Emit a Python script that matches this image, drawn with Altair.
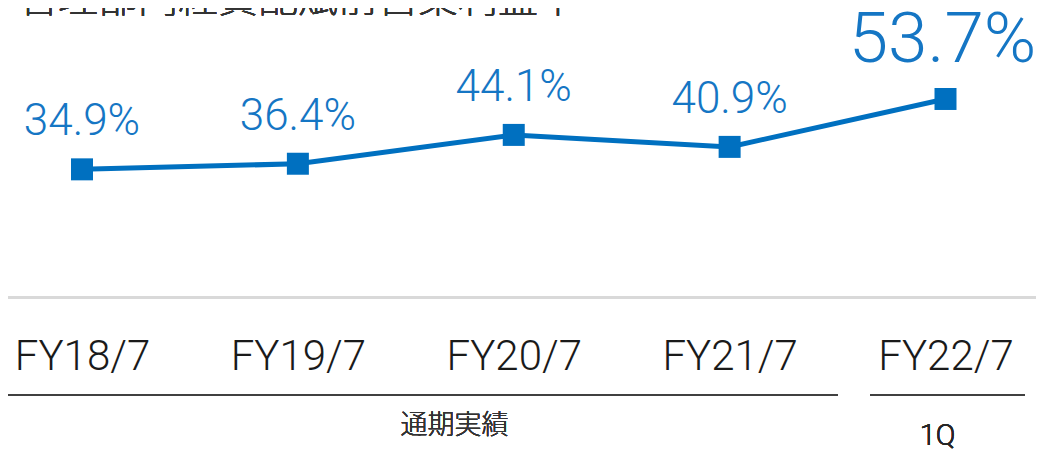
import altair as alt
import pandas as pd

title_text = "管理部門経費配賦前営業利益率"
categories = ["FY18/7", "FY19/7", "FY20/7", "FY21/7", "FY22/7"]
values = [34.9, 36.4, 44.1, 40.9, 53.7]
group_names = ["通期実績", "1Q"]

df = pd.DataFrame({"cat": categories, "v": values})

BLUE = "#0070C0"
LABEL_BLUE = "#1576C4"
NUM_FONT = "Roboto"

xscale = alt.Scale(type="point", domain=categories, range=[74, 937.5], padding=0)
yscale = alt.Scale(domain=[0, 78], zero=False, nice=False)

x_enc = alt.X(
    "cat:N",
    scale=xscale,
    sort=categories,
    axis=alt.Axis(
        title=None, domain=False, ticks=False, grid=False, labelAngle=0,
        labelAlign="center",
        labelFont=NUM_FONT, labelFontSize=42, labelFontWeight=300,
        labelColor="#1a1a1a", labelBaseline="alphabetic", labelPadding=69,
        labelOverlap=False, labelFlush=False,
    ),
)
y_enc = alt.Y("v:Q", scale=yscale, axis=None)

base = alt.Chart(df)

line = base.mark_line(color=BLUE, strokeWidth=5).encode(x=x_enc, y=y_enc)
pts = base.mark_point(shape="square", filled=True, size=484, color=BLUE, opacity=1).encode(x=x_enc, y=y_enc)

lab_small = (
    base.transform_filter(alt.datum.cat != categories[-1])
    .transform_calculate(lbl="format(datum.v, '.1f') + '%'")
    .mark_text(font=NUM_FONT, fontSize=44, fontWeight=300, color=LABEL_BLUE, dy=-34, baseline="alphabetic")
    .encode(x=x_enc, y=y_enc, text="lbl:N")
)
lab_big = (
    base.transform_filter(alt.datum.cat == categories[-1])
    .transform_calculate(lbl="format(datum.v, '.1f') + '%'")
    .mark_text(font=NUM_FONT, fontSize=71, fontWeight=300, color=LABEL_BLUE, dy=-37, dx=-3, baseline="alphabetic")
    .encode(x=x_enc, y=y_enc, text="lbl:N")
)

gray_rule = alt.Chart(df).mark_rule(color="#D9D9D9", strokeWidth=3).encode(
    x=alt.value(0), x2=alt.value(1028), y=alt.value(289.5)
)

bracket1 = alt.Chart(df).mark_rule(color="#404040", strokeWidth=2, xOffset=-108, x2Offset=108).encode(
    x=alt.datum(categories[0], scale=xscale), x2=alt.datum(categories[3]), y=alt.value(387)
)
bracket2 = alt.Chart(df).mark_rule(color="#404040", strokeWidth=2, xOffset=-75.5, x2Offset=79.5).encode(
    x=alt.datum(categories[4], scale=xscale), x2=alt.datum(categories[4]), y=alt.value(387)
)

g1 = alt.Chart(df).mark_text(font="Noto Sans CJK JP", fontSize=27, fontWeight=300, color="#333333", baseline="alphabetic").encode(
    x=alt.value(446.5), y=alt.value(426), text=alt.value(group_names[0])
)
g2 = alt.Chart(df).mark_text(font=NUM_FONT, fontSize=29, fontWeight=300, color="#262626", baseline="alphabetic", dx=-8).encode(
    x=alt.datum(categories[4], scale=xscale), y=alt.value(437), text=alt.value(group_names[1])
)

title = alt.Chart(df).mark_text(font="Noto Sans CJK JP", fontSize=40, fontWeight=300, color="#333333", align="left", baseline="alphabetic").encode(
    x=alt.value(10), y=alt.value(4), text=alt.value(title_text)
)

chart = (
    alt.layer(gray_rule, bracket1, bracket2, line, pts, lab_small, lab_big, g1, g2, title)
    .properties(
        width=1012, height=292,
        autosize=alt.AutoSizeParams(type="none"),
        padding={"left": 0, "top": 0, "right": 16, "bottom": 150},
    )
    .configure_view(stroke=None)
)

chart.save("out.html", embed_options={"renderer": "svg", "actions": False})
